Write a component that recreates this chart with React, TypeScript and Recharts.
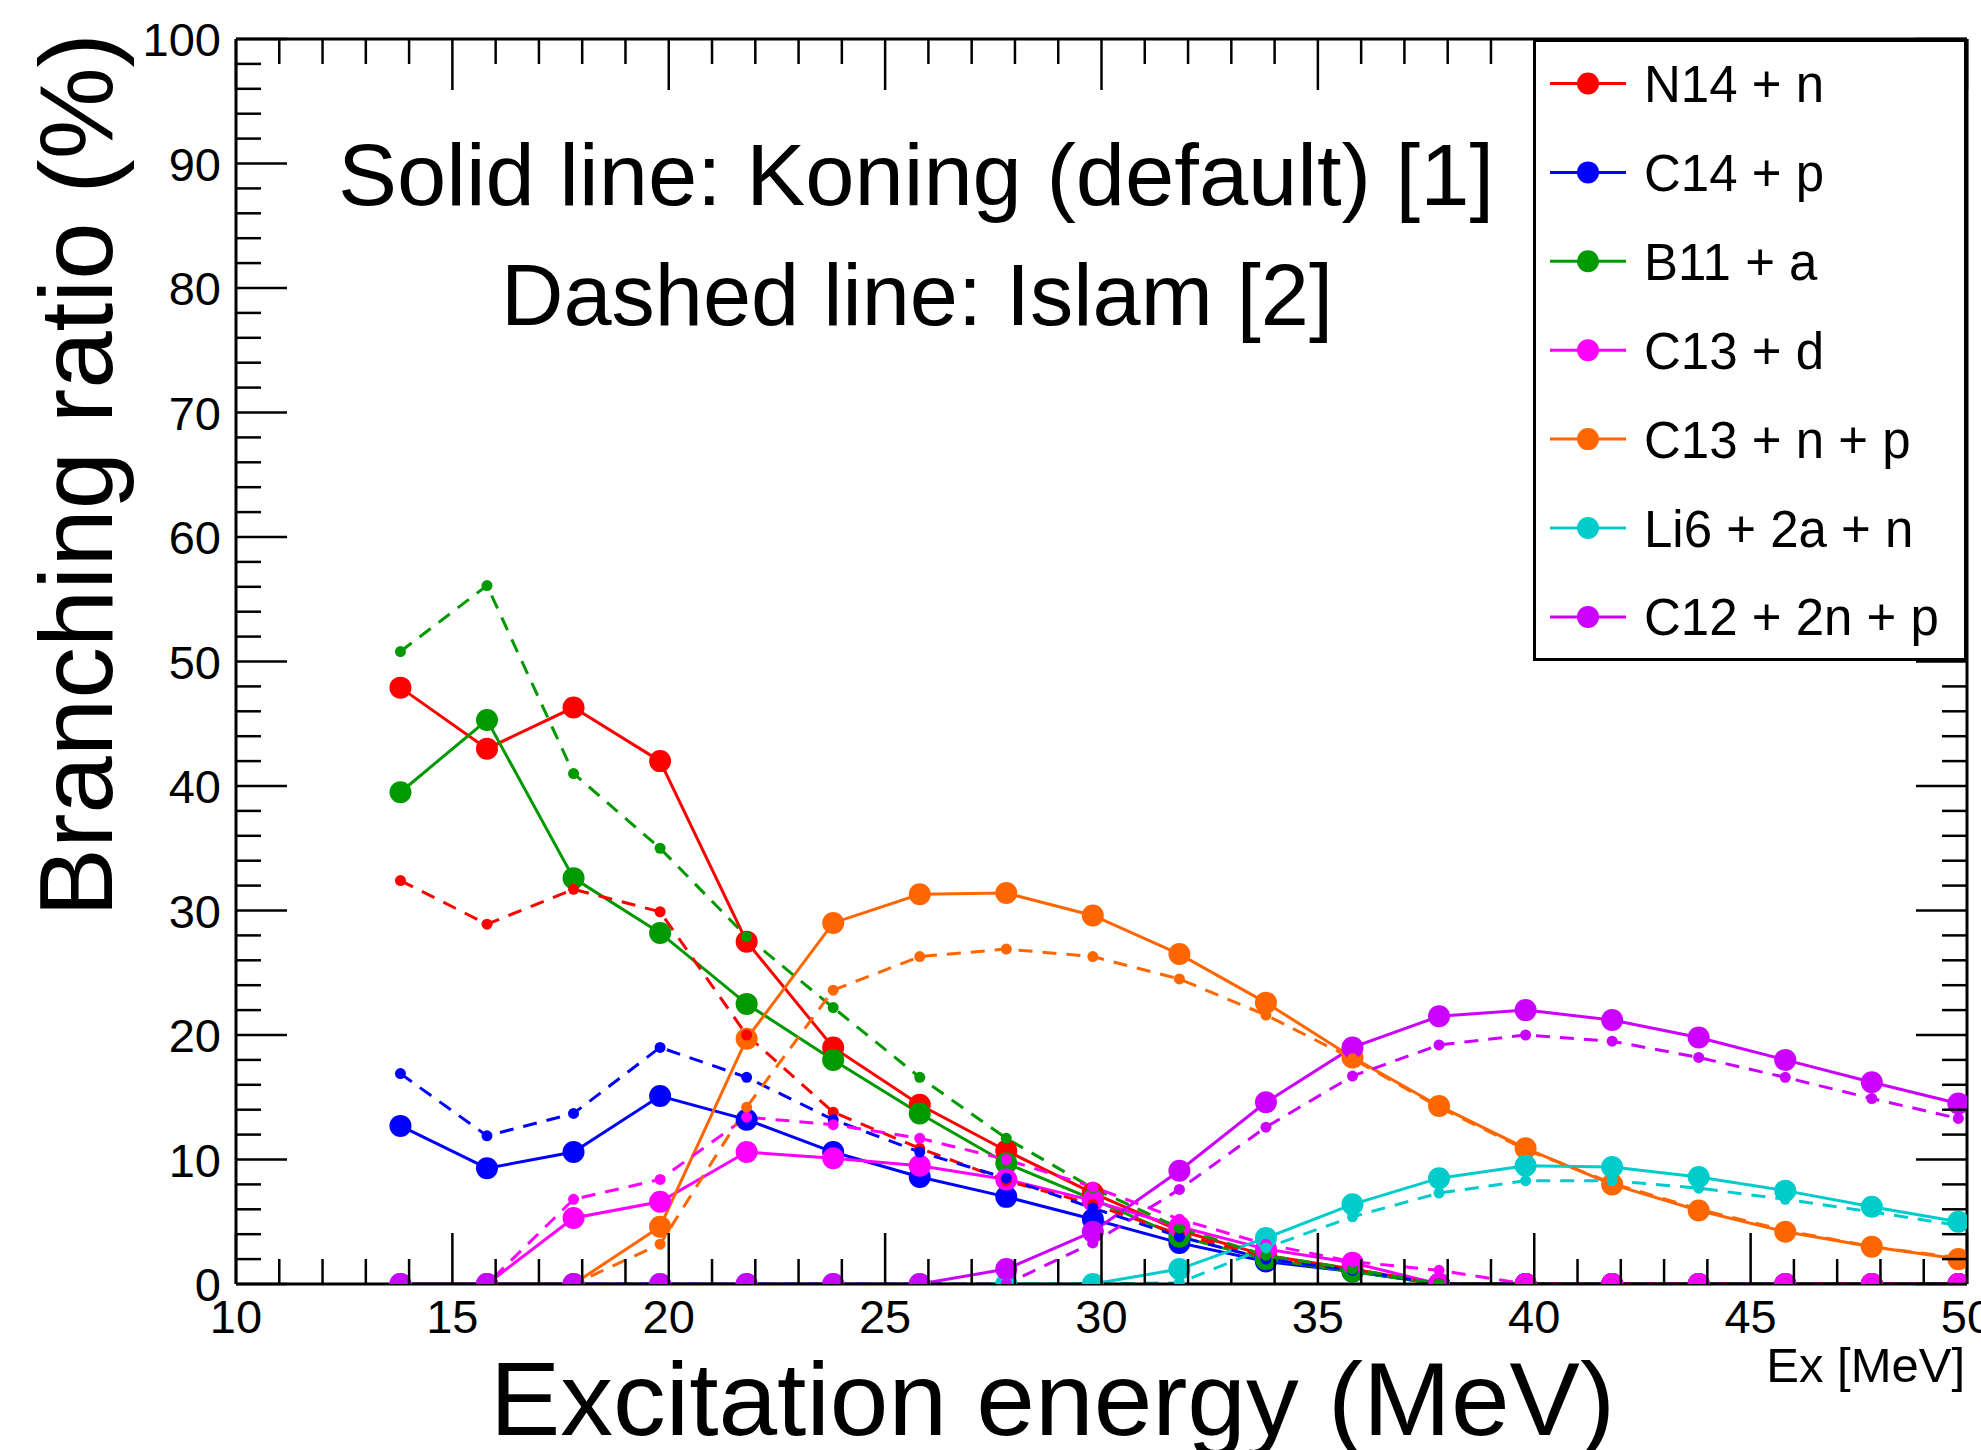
import React from "react";
import { LineChart, Line, XAxis, YAxis, Legend } from "recharts";

// Excitation energy bins (MeV)
const EX = [13.8, 15.8, 17.8, 19.8, 21.8, 23.8, 25.8, 27.8, 29.8, 31.8, 33.8, 35.8, 37.8, 39.8, 41.8, 43.8, 45.8, 47.8, 49.8];

// Koning (solid) and Islam (dashed) branching ratios, %
const N14_KONING = [47.9, 43.0, 46.3, 42.0, 27.5, 19.0, 14.4, 10.7, 7.3, 4.3, 2.3, 1.2, 0, 0, 0, 0, 0, 0, 0];
const N14_ISLAM = [32.4, 28.9, 31.7, 29.9, 20.0, 13.8, 10.9, 8.3, 6.4, 4.0, 2.2, 1.2, 0, 0, 0, 0, 0, 0, 0];
const C14_KONING = [12.7, 9.3, 10.6, 15.1, 13.2, 10.6, 8.6, 7.0, 5.2, 3.3, 1.8, 1.0, 0, 0, 0, 0, 0, 0, 0];
const C14_ISLAM = [16.9, 11.9, 13.7, 19.0, 16.6, 13.2, 10.6, 8.5, 6.1, 3.8, 2.0, 1.1, 0, 0, 0, 0, 0, 0, 0];
const B11_KONING = [39.5, 45.3, 32.6, 28.2, 22.5, 18.0, 13.7, 9.7, 6.8, 3.8, 2.0, 1.0, 0, 0, 0, 0, 0, 0, 0];
const B11_ISLAM = [50.8, 56.1, 41.0, 35.0, 27.9, 22.2, 16.6, 11.7, 7.7, 4.5, 2.3, 1.2, 0, 0, 0, 0, 0, 0, 0];
const C13D_KONING = [0, 0, 5.3, 6.6, 10.6, 10.1, 9.5, 8.4, 6.7, 4.6, 2.8, 1.7, 0, 0, 0, 0, 0, 0, 0];
const C13D_ISLAM = [0, 0, 6.8, 8.4, 13.4, 12.8, 11.7, 10.0, 7.8, 5.2, 3.2, 1.8, 1.1, 0, 0, 0, 0, 0, 0];
const C13NP_KONING = [0, 0, 0, 4.6, 19.7, 29.0, 31.3, 31.4, 29.6, 26.5, 22.6, 18.2, 14.3, 10.9, 8.0, 5.9, 4.2, 3.0, 2.0];
const C13NP_ISLAM = [0, 0, 0, 3.2, 14.2, 23.6, 26.3, 26.9, 26.3, 24.5, 21.6, 18.1, 14.2, 10.8, 8.1, 6.0, 4.3, 3.0, 2.1];
const LI6_KONING = [0, 0, 0, 0, 0, 0, 0, 0, 0, 1.2, 3.7, 6.4, 8.5, 9.5, 9.4, 8.6, 7.5, 6.2, 5.0];
const LI6_ISLAM = [0, 0, 0, 0, 0, 0, 0, 0, 0, 0.1, 2.9, 5.4, 7.3, 8.3, 8.3, 7.7, 6.8, 5.8, 4.7];
const C12_KONING = [0, 0, 0, 0, 0, 0, 0, 1.2, 4.2, 9.1, 14.6, 19.0, 21.5, 22.0, 21.2, 19.8, 18.0, 16.2, 14.5];
const C12_ISLAM = [0, 0, 0, 0, 0, 0, 0, 0, 3.3, 7.6, 12.6, 16.7, 19.2, 20.0, 19.5, 18.2, 16.6, 14.9, 13.3];

const X_LABELS = [10, 15, 20, 25, 30, 35, 40, 45, 50];
const Y_LABELS = [0, 10, 20, 30, 40, 50, 60, 70, 80, 90, 100];
// minor ticks: every 1 MeV, every 2 %
const X_TICKS = Array.from({ length: 41 }, (_, i) => 10 + i);
const Y_TICKS = Array.from({ length: 51 }, (_, i) => i * 2);

const SERIES = [
  { key: "n14", name: "N14 + n", color: "#ff0000", koning: N14_KONING, islam: N14_ISLAM },
  { key: "c14", name: "C14 + p", color: "#0000ff", koning: C14_KONING, islam: C14_ISLAM },
  { key: "b11", name: "B11 + a", color: "#009900", koning: B11_KONING, islam: B11_ISLAM },
  { key: "c13d", name: "C13 + d", color: "#ff00ff", koning: C13D_KONING, islam: C13D_ISLAM },
  { key: "c13np", name: "C13 + n + p", color: "#ff6600", koning: C13NP_KONING, islam: C13NP_ISLAM },
  { key: "li6", name: "Li6 + 2a + n", color: "#00cccc", koning: LI6_KONING, islam: LI6_ISLAM },
  { key: "c12", name: "C12 + 2n + p", color: "#cc00ff", koning: C12_KONING, islam: C12_ISLAM },
];

const FONT = '"Liberation Sans", Arial, Helvetica, sans-serif';

const data = EX.map((ex, i) => {
  const row: any = { ex };
  SERIES.forEach((s) => {
    row[s.key + "_k"] = s.koning[i];
    row[s.key + "_i"] = s.islam[i];
  });
  return row;
});

// ticks drawn inward, ROOT style
function BottomTick(props: any) {
  const { x, y, payload } = props;
  const major = X_LABELS.includes(payload.value);
  return (
    <g>
      <line x1={x} y1={y} x2={x} y2={y - (major ? 51 : 25)} stroke="#000" strokeWidth={2.5} />
      {major && (
        <text x={x} y={y + 49} textAnchor="middle" fontSize={47} fontFamily={FONT} fill="#000">
          {payload.value}
        </text>
      )}
    </g>
  );
}

function TopTick(props: any) {
  const { x, y, payload } = props;
  const major = X_LABELS.includes(payload.value);
  return <line x1={x} y1={y} x2={x} y2={y + (major ? 51 : 25)} stroke="#000" strokeWidth={2.5} />;
}

function LeftTick(props: any) {
  const { x, y, payload } = props;
  const major = Y_LABELS.includes(payload.value);
  return (
    <g>
      <line x1={x} y1={y} x2={x + (major ? 51 : 25)} y2={y} stroke="#000" strokeWidth={2.5} />
      {major && (
        <text x={x - 15} y={y + 17} textAnchor="end" fontSize={47} fontFamily={FONT} fill="#000">
          {payload.value}
        </text>
      )}
    </g>
  );
}

function RightTick(props: any) {
  const { x, y, payload } = props;
  const major = Y_LABELS.includes(payload.value);
  return <line x1={x} y1={y} x2={x - (major ? 51 : 25)} y2={y} stroke="#000" strokeWidth={2.5} />;
}

function LegendBox(props: any) {
  const all = props.payload || [];
  // keep the Koning entries, in the order of SERIES
  const items = SERIES.map((s) => all.find((p: any) => p.dataKey === s.key + "_k")).filter(Boolean);
  return (
    <svg width={434} height={622} style={{ display: "block" }}>
      <rect x={1.5} y={1.5} width={431} height={619} fill="#fff" stroke="#000" strokeWidth={3} />
      {items.map((it: any, i: number) => {
        const cy = 44.5 + i * 88.9;
        return (
          <g key={it.value}>
            <line x1={17} y1={cy} x2={93} y2={cy} stroke={it.color} strokeWidth={3} />
            <circle cx={55} cy={cy} r={11} fill={it.color} />
            <text x={111} y={cy + 18.5} fontSize={51} fontFamily={FONT} fill="#000">
              {it.value}
            </text>
          </g>
        );
      })}
    </svg>
  );
}

export default function App() {
  return (
    <div style={{ position: "absolute", left: 0, top: 0, width: 1981, height: 1450, background: "#fff", fontFamily: FONT }}>
      <LineChart width={1981} height={1450} data={data} margin={{ top: 38, right: 13, bottom: 165, left: 235 }}>
        <XAxis
          type="number"
          dataKey="ex"
          domain={[10, 50]}
          ticks={X_TICKS}
          interval={0}
          height={1}
          tickSize={0}
          tickMargin={0}
          tickLine={false}
          axisLine={{ stroke: "#000", strokeWidth: 3 }}
          tick={<BottomTick />}
          allowDataOverflow
        />
        <XAxis
          xAxisId="top"
          orientation="top"
          type="number"
          dataKey="ex"
          domain={[10, 50]}
          ticks={X_TICKS}
          interval={0}
          height={1}
          tickSize={0}
          tickMargin={0}
          tickLine={false}
          axisLine={{ stroke: "#000", strokeWidth: 3 }}
          tick={<TopTick />}
          allowDataOverflow
        />
        <YAxis
          type="number"
          domain={[0, 100]}
          ticks={Y_TICKS}
          interval={0}
          width={1}
          tickSize={0}
          tickMargin={0}
          tickLine={false}
          axisLine={{ stroke: "#000", strokeWidth: 3 }}
          tick={<LeftTick />}
          allowDataOverflow
        />
        <YAxis
          yAxisId="right"
          orientation="right"
          type="number"
          domain={[0, 100]}
          ticks={Y_TICKS}
          interval={0}
          width={1}
          tickSize={0}
          tickMargin={0}
          tickLine={false}
          axisLine={{ stroke: "#000", strokeWidth: 3 }}
          tick={<RightTick />}
          allowDataOverflow
        />
        <Legend
          layout="horizontal"
          align="center"
          verticalAlign="middle"
          wrapperStyle={{ left: 1533, top: 39, width: 434, height: 622 }}
          content={<LegendBox />}
        />
        {SERIES.map((s) => (
          <Line
            key={s.key + "_k"}
            dataKey={s.key + "_k"}
            name={s.name}
            stroke={s.color}
            strokeWidth={3}
            dot={{ r: 11, fill: s.color, stroke: "none" }}
            activeDot={false}
            isAnimationActive={false}
          />
        ))}
        {SERIES.map((s) => (
          <Line
            key={s.key + "_i"}
            dataKey={s.key + "_i"}
            name={s.name + " (Islam)"}
            stroke={s.color}
            strokeWidth={3}
            strokeDasharray="14 10"
            dot={{ r: 5.5, fill: s.color, stroke: "none" }}
            activeDot={false}
            legendType="none"
            isAnimationActive={false}
          />
        ))}
      </LineChart>
      <svg width={1981} height={1450} style={{ position: "absolute", left: 0, top: 0, pointerEvents: "none" }}>
        <text x={916} y={205} textAnchor="middle" fontSize={87} fontFamily={FONT} textLength={1156} lengthAdjust="spacingAndGlyphs">
          Solid line: Koning (default) [1]
        </text>
        <text x={917} y={325} textAnchor="middle" fontSize={87} fontFamily={FONT} textLength={832} lengthAdjust="spacingAndGlyphs">
          Dashed line: Islam [2]
        </text>
        <text transform="translate(112,917) rotate(-90)" fontSize={103} fontFamily={FONT} textLength={884} lengthAdjust="spacingAndGlyphs">
          Branching ratio (%)
        </text>
        <text x={490} y={1435} fontSize={104} fontFamily={FONT} textLength={1125} lengthAdjust="spacingAndGlyphs">
          Excitation energy (MeV)
        </text>
        <text x={1965} y={1382} textAnchor="end" fontSize={49} fontFamily={FONT}>
          Ex [MeV]
        </text>
      </svg>
    </div>
  );
}
